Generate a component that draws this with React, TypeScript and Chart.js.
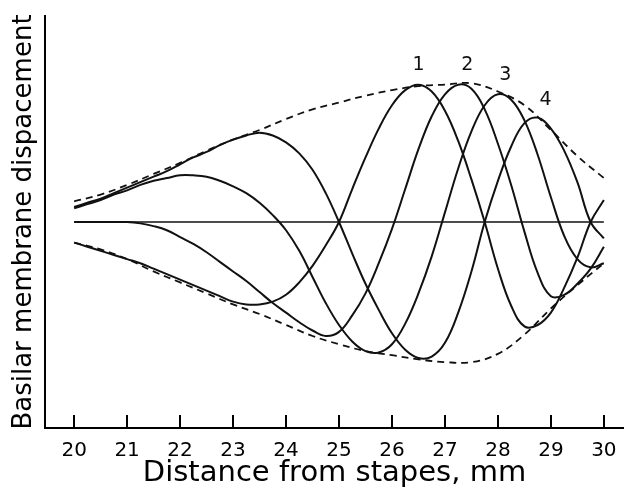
import React, { useEffect, useRef } from 'react';
import { Chart, registerables } from 'chart.js';

Chart.register(...registerables);

// Distance from stapes (mm) sample positions for the four instantaneous waves
const waveX = [
  20, 20.25, 20.5, 20.75, 21, 21.25, 21.5, 21.75, 22, 22.25, 22.5, 22.75,
  23, 23.25, 23.5, 23.75, 24, 24.25, 24.5, 24.75, 25, 25.25, 25.5, 25.75,
  26, 26.25, 26.5, 26.75, 27, 27.25, 27.5, 27.75, 28, 28.25, 28.5, 28.75,
  29, 29.25, 29.5, 29.75, 30,
];

// Wave 1 (peak near 26.5 mm)
const wave1 = [
  -0.15, -0.18, -0.21, -0.24, -0.27, -0.3, -0.34, -0.38, -0.42, -0.46, -0.5, -0.54,
  -0.58, -0.6, -0.6, -0.58, -0.53, -0.44, -0.32, -0.17, 0, 0.24, 0.47, 0.68,
  0.85, 0.96, 1.0, 0.95, 0.81, 0.59, 0.31, 0, -0.34, -0.61, -0.76, -0.75,
  -0.66, -0.48, -0.26, 0, 0.16,
];

// Wave 2 (peak near 27.3 mm)
const wave2 = [
  0, 0, 0, 0, 0, -0.01, -0.03, -0.06, -0.11, -0.16, -0.22, -0.29,
  -0.36, -0.43, -0.51, -0.59, -0.66, -0.73, -0.79, -0.83, -0.8, -0.68, -0.52, -0.3,
  -0.05, 0.24, 0.53, 0.77, 0.93, 1.0, 0.97, 0.82, 0.57, 0.27, -0.07, -0.37,
  -0.54, -0.53, -0.45, -0.34, -0.18,
];

// Wave 3 (peak near 28.05 mm)
const wave3 = [
  0.1, 0.13, 0.16, 0.2, 0.23, 0.27, 0.3, 0.32, 0.34, 0.34, 0.33, 0.3,
  0.26, 0.21, 0.14, 0.05, -0.06, -0.21, -0.4, -0.59, -0.75, -0.87, -0.94, -0.95,
  -0.89, -0.74, -0.52, -0.25, 0.07, 0.39, 0.66, 0.85, 0.93, 0.89, 0.74, 0.49,
  0.18, -0.1, -0.27, -0.33, -0.3,
];

// Wave 4 (peak near 28.7 mm)
const wave4 = [
  0.11, 0.14, 0.17, 0.21, 0.25, 0.29, 0.33, 0.37, 0.42, 0.47, 0.51, 0.56,
  0.6, 0.63, 0.65, 0.63, 0.58, 0.5, 0.38, 0.21, 0, -0.23, -0.45, -0.64,
  -0.81, -0.93, -0.99, -0.98, -0.88, -0.66, -0.36, 0, 0.3, 0.55, 0.72, 0.76,
  0.68, 0.52, 0.29, 0, -0.12,
];

// Dashed envelope
const envX = [
  20, 20.5, 21, 21.5, 22, 22.5, 23, 23.5, 24, 24.5, 25, 25.5, 26, 26.5, 27,
  27.5, 28, 28.5, 29, 29.5, 30,
];
const envUpper = [
  0.15, 0.2, 0.27, 0.35, 0.43, 0.52, 0.6, 0.67, 0.75, 0.82, 0.87, 0.92, 0.96,
  0.99, 1.0, 1.01, 0.95, 0.85, 0.67, 0.48, 0.32,
];
const envLower = [
  -0.15, -0.2, -0.27, -0.36, -0.44, -0.52, -0.6, -0.67, -0.75, -0.83, -0.89,
  -0.94, -0.97, -1.0, -1.02, -1.02, -0.96, -0.82, -0.63, -0.46, -0.3,
];

// Rest position of the membrane
const baselineX = [20, 30];
const baselineY = [0, 0];

// Axis ticks
const tickValues = [20, 21, 22, 23, 24, 25, 26, 27, 28, 29, 30];

// Curve number labels
const peakLabelText = ['1', '2', '3', '4'];
const peakLabelX = [26.5, 27.42, 28.14, 28.9];
const peakLabelY = [1.14, 1.14, 1.07, 0.89];

const xTitle = 'Distance from stapes, mm';
const yTitle = 'Basilar membrane dispacement';

const toPoints = (xs: number[], ys: number[]) => xs.map((x, i) => ({ x, y: ys[i] }));

export default function App() {
  const canvasRef = useRef<HTMLCanvasElement>(null);

  useEffect(() => {
    if (!canvasRef.current) return;

    const solid = (data: { x: number; y: number }[]) => ({
      data,
      borderColor: '#111',
      borderWidth: 2,
      pointRadius: 0,
      fill: false,
      tension: 0.4,
    });
    const dashed = (data: { x: number; y: number }[]) => ({
      data,
      borderColor: '#111',
      borderWidth: 1.8,
      borderDash: [7, 5],
      pointRadius: 0,
      fill: false,
      tension: 0.4,
    });

    const tickMarks = {
      id: 'tickMarks',
      afterDraw(chart: any) {
        const { ctx, chartArea } = chart;
        const xs = chart.scales.x;
        ctx.save();
        ctx.strokeStyle = '#000';
        ctx.lineWidth = 2;
        tickValues.forEach((v) => {
          const px = Math.round(xs.getPixelForValue(v));
          ctx.beginPath();
          ctx.moveTo(px, chartArea.bottom);
          ctx.lineTo(px, chartArea.bottom - 13);
          ctx.stroke();
        });
        ctx.restore();
      },
    };

    const peakLabels = {
      id: 'peakLabels',
      afterDatasetsDraw(chart: any) {
        const { ctx } = chart;
        const xs = chart.scales.x;
        const ys = chart.scales.y;
        ctx.save();
        ctx.fillStyle = '#111';
        ctx.font = '19px "DejaVu Sans"';
        ctx.textAlign = 'center';
        ctx.textBaseline = 'middle';
        peakLabelText.forEach((t, i) => {
          ctx.fillText(t, xs.getPixelForValue(peakLabelX[i]), ys.getPixelForValue(peakLabelY[i]));
        });
        ctx.restore();
      },
    };

    const chart = new Chart(canvasRef.current, {
      type: 'line',
      data: {
        datasets: [
          dashed(toPoints(envX, envUpper)),
          dashed(toPoints(envX, envLower)),
          { ...solid(toPoints(baselineX, baselineY)), borderWidth: 1.6, tension: 0 },
          solid(toPoints(waveX, wave1)),
          solid(toPoints(waveX, wave2)),
          solid(toPoints(waveX, wave3)),
          solid(toPoints(waveX, wave4)),
        ],
      },
      options: {
        animation: false,
        responsive: false,
        devicePixelRatio: 1,
        layout: { padding: { top: 16, right: 0, left: 0, bottom: 0 } },
        plugins: {
          legend: { display: false },
          tooltip: { enabled: false },
        },
        scales: {
          x: {
            type: 'linear',
            min: 19.45,
            max: 30.38,
            afterBuildTicks: (s: any) => {
              s.ticks = tickValues.map((v) => ({ value: v }));
            },
            afterFit: (s: any) => {
              s.height = 65;
              s.paddingLeft = 0;
              s.paddingRight = 0;
            },
            grid: { display: false },
            border: { display: true, color: '#000', width: 2 },
            ticks: {
              color: '#000',
              font: { family: 'DejaVu Sans', size: 20 },
              padding: 3,
              maxRotation: 0,
              autoSkip: false,
              callback: (v: any) => String(v),
            },
            title: {
              display: true,
              text: xTitle,
              color: '#000',
              font: { family: 'DejaVu Sans', size: 29 },
              padding: { top: 0, bottom: 2 },
            },
          },
          y: {
            type: 'linear',
            min: -1.5,
            max: 1.5,
            afterFit: (s: any) => {
              s.width = 45;
            },
            ticks: { display: false },
            grid: { display: false },
            border: { display: true, color: '#000', width: 2 },
            title: {
              display: true,
              text: yTitle,
              color: '#000',
              font: { family: 'DejaVu Sans', size: 26 },
              padding: { top: 9, bottom: 0 },
            },
          },
        },
      },
      plugins: [tickMarks, peakLabels],
    } as any);

    return () => chart.destroy();
  }, []);

  return (
    <div style={{ position: 'absolute', left: 0, top: 0, width: 624, height: 493, background: '#fff' }}>
      <canvas ref={canvasRef} width={624} height={493} style={{ display: 'block', width: 624, height: 493 }} />
    </div>
  );
}
